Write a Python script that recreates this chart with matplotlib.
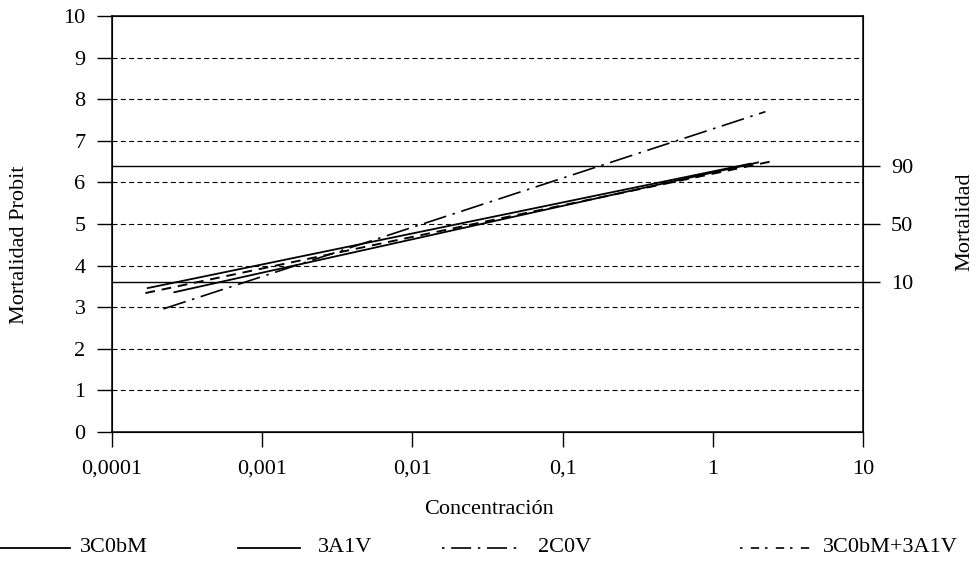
import matplotlib
matplotlib.use("Agg")
import matplotlib.pyplot as plt
from matplotlib.lines import Line2D

plt.rcParams["font.family"] = ["Liberation Serif", "DejaVu Serif"]
plt.rcParams["font.size"] = 16

# ---------------------- DATA ----------------------
# probit regression lines, given by their two end points (concentration, probit)
conc_3c0bm = [0.000173, 1.78]
probit_3c0bm = [3.46, 6.45]

conc_3a1v = [0.00026, 2.0]
probit_3a1v = [3.36, 6.48]

conc_2c0v = [0.00022, 2.24]
probit_2c0v = [2.96, 7.70]

conc_mix = [0.000167, 2.57]
probit_mix = [3.34, 6.52]

# reference lines: probit values for 10 % / 90 % mortality and right axis ticks
ref_probit = [3.6, 6.4]
mort_ticks = [3.6, 5.0, 6.4]
mort_labels = ["10", "50", "90"]

x_ticks = [0.0001, 0.001, 0.01, 0.1, 1, 10]
x_labels = ["0,0001", "0,001", "0,01", "0,1", "1", "10"]
y_ticks = list(range(0, 11))

series_names = ["3C0bM", "3A1V", "2C0V", "3C0bM+3A1V"]

# line styles for the four series
styles = {
    "3C0bM": dict(ls="-", lw=1.3),
    "3A1V": dict(ls="-", lw=1.3),
    "2C0V": dict(ls=(0, (14, 4, 1.5, 4)), lw=1.2),
    "3C0bM+3A1V": dict(ls=(0, (5, 3.5)), lw=1.4),
}

# ---------------------- FIGURE ----------------------
W, H = 977, 574
fig = plt.figure(figsize=(W / 100, H / 100), dpi=100)
ax = fig.add_axes([112 / W, 1 - 432 / H, (863 - 112) / W, (432 - 16) / H])

ax.set_xscale("log")
ax.set_xlim(0.0001, 10)
ax.set_ylim(0, 10)

# dashed grid lines at every probit unit
for y in y_ticks[1:-1]:
    ax.axhline(y, color="black", lw=0.8, ls=(0, (4.5, 3.0)), zorder=1)

# solid reference lines at 10 and 90 % mortality
for y in ref_probit:
    ax.axhline(y, color="black", lw=1.0, zorder=2)

data = {
    "3C0bM": (conc_3c0bm, probit_3c0bm),
    "3A1V": (conc_3a1v, probit_3a1v),
    "2C0V": (conc_2c0v, probit_2c0v),
    "3C0bM+3A1V": (conc_mix, probit_mix),
}
for name in series_names:
    xs, ys = data[name]
    ax.plot(xs, ys, color="black", zorder=3, **styles[name])

ax.set_xticks(x_ticks)
ax.set_xticklabels(x_labels)
ax.minorticks_off()
ax.set_yticks(y_ticks)

ax.tick_params(axis="x", direction="out", length=11, width=1, pad=9)
ax.tick_params(axis="y", direction="out", length=11, width=1, pad=8)

for s in ax.spines.values():
    s.set_linewidth(1.1)

# right axis with mortality percentages
ax2 = ax.twinx()
ax2.set_ylim(0, 10)
ax2.set_yticks(mort_ticks)
ax2.set_yticklabels(mort_labels)
ax2.tick_params(axis="y", direction="out", length=12, width=1, pad=8)

# axis titles placed in figure pixels
fig.text(20 / W, 1 - 245 / H, "Mortalidad Probit", rotation=90, ha="center", va="center")
fig.text(965 / W, 1 - 222 / H, "Mortalidad", rotation=90, ha="center", va="center")
fig.text(489 / W, 1 - 509 / H, "Concentración", ha="center", va="center")

# ---------------------- LEGEND ----------------------
# each entry: handle start, handle end, text start (pixels)
leg_pos = [(0, 70, 80), (238, 300, 318), (442, 520, 538), (740, 810, 823)]
leg_y = 1 - 548 / H
leg_styles = {
    "3C0bM": dict(ls="-", lw=1.3),
    "3A1V": dict(ls="-", lw=1.3),
    "2C0V": dict(ls=(0, (1.5, 4, 12, 4)), lw=1.2),
    "3C0bM+3A1V": dict(ls=(0, (1.5, 5, 5, 3.5)), lw=1.2),
}
for name, (x0, x1, xt) in zip(series_names, leg_pos):
    fig.add_artist(Line2D([x0 / W, x1 / W], [leg_y, leg_y], color="black",
                          transform=fig.transFigure, **leg_styles[name]))
    fig.text(xt / W, leg_y, name, ha="left", va="center")

plt.savefig("out.png", dpi=100)
